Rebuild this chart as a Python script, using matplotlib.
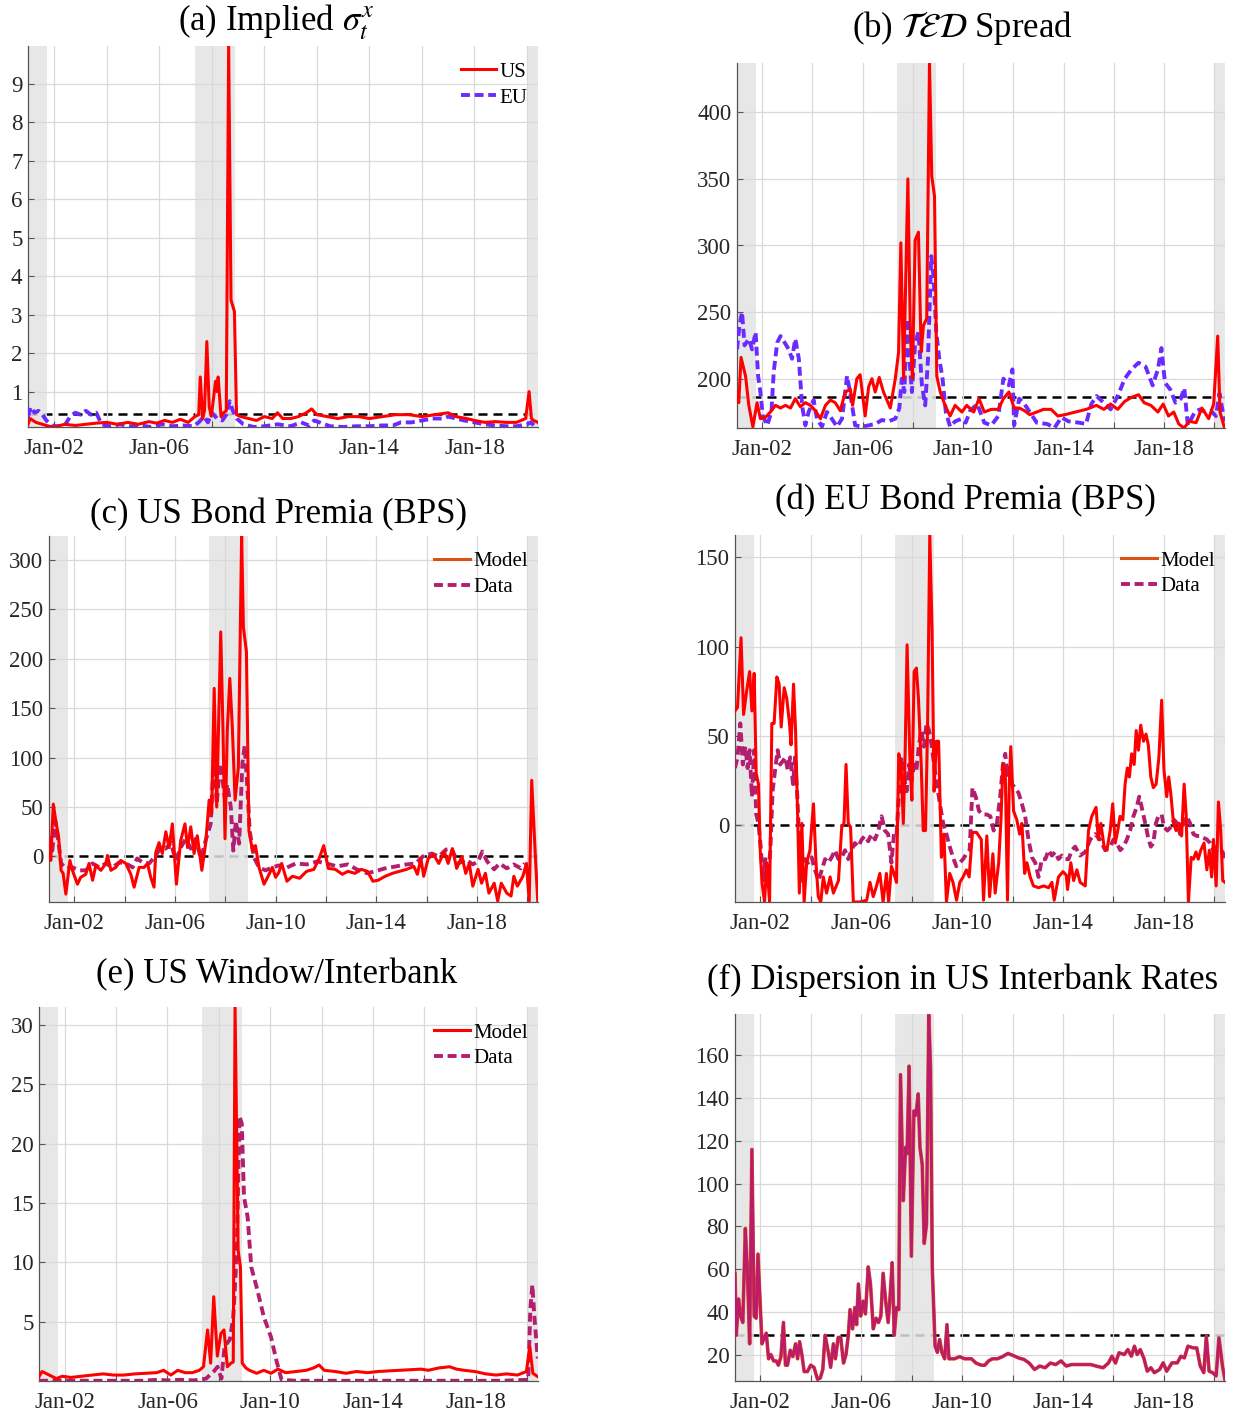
import matplotlib
matplotlib.use('Agg')
import matplotlib.pyplot as plt
from matplotlib.lines import Line2D

plt.rcParams['font.family'] = ['Liberation Serif', 'DejaVu Serif']
plt.rcParams['mathtext.fontset'] = 'stix'

# ---------------- data ----------------
x_ticks = [2002, 2004, 2006, 2008, 2010, 2012, 2014, 2016, 2018, 2020]
x_tick_labels = ['Jan-02', '', 'Jan-06', '', 'Jan-10', '', 'Jan-14', '', 'Jan-18', '']
recessions = [(2001.0, 2001.74), (2007.35, 2008.9), (2020.0, 2020.42)]

# (a) implied sigma
a_us_t = [2001.0, 2001.08, 2001.3, 2001.55, 2001.8, 2002.0, 2002.4, 2002.8, 2003.2, 2003.6,
          2004.0, 2004.4, 2004.8, 2005.2, 2005.6, 2005.9, 2006.2, 2006.5, 2006.8, 2007.1,
          2007.35, 2007.5, 2007.56, 2007.65, 2007.72, 2007.81, 2007.9, 2007.98, 2008.06, 2008.14,
          2008.2, 2008.24, 2008.35, 2008.45, 2008.55, 2008.64, 2008.73, 2008.86, 2008.94, 2009.1,
          2009.4, 2009.7, 2010.0, 2010.3, 2010.5, 2010.7, 2011.0, 2011.3, 2011.6, 2011.8,
          2012.0, 2012.4, 2012.8, 2013.2, 2013.6, 2014.0, 2014.5, 2015.0, 2015.5, 2016.0,
          2016.5, 2017.0, 2017.3, 2017.7, 2018.0, 2018.4, 2018.8, 2019.2, 2019.6, 2019.95,
          2020.08, 2020.17, 2020.25, 2020.42]
a_us_v = [0.15, 0.3, 0.2, 0.15, 0.1, 0.08, 0.15, 0.12, 0.15, 0.18,
          0.2, 0.15, 0.2, 0.15, 0.22, 0.18, 0.25, 0.2, 0.28, 0.2,
          0.35, 0.4, 1.38, 0.3, 0.5, 2.3, 0.6, 0.36, 0.8, 1.27,
          1.0, 1.38, 0.35, 0.45, 0.5, 9.98, 3.38, 3.08, 0.4, 0.35,
          0.3, 0.25, 0.35, 0.3, 0.45, 0.3, 0.3, 0.35, 0.45, 0.55,
          0.4, 0.35, 0.3, 0.35, 0.35, 0.3, 0.35, 0.4, 0.4, 0.35,
          0.4, 0.45, 0.35, 0.3, 0.25, 0.2, 0.22, 0.2, 0.2, 0.3,
          1.0, 0.3, 0.25, 0.2]
a_eu_t = [2001.0, 2001.1, 2001.25, 2001.4, 2001.55, 2001.7, 2001.9, 2002.1, 2002.4, 2002.6,
          2002.8, 2003.0, 2003.2, 2003.4, 2003.6, 2003.8, 2004.1, 2004.5, 2004.9, 2005.3,
          2005.7, 2006.1, 2006.5, 2006.9, 2007.3, 2007.5, 2007.7, 2007.85, 2008.0, 2008.2,
          2008.4, 2008.55, 2008.68, 2008.8, 2008.95, 2009.2, 2009.6, 2010.0, 2010.5, 2011.0,
          2011.4, 2011.7, 2011.9, 2012.5, 2013.0, 2013.5, 2014.0, 2014.5, 2014.9, 2015.2,
          2015.6, 2016.0, 2016.4, 2016.8, 2017.0, 2017.3, 2017.6, 2018.0, 2018.4, 2018.8,
          2019.2, 2019.6, 2020.0, 2020.15, 2020.3, 2020.42]
a_eu_v = [0.35, 0.6, 0.45, 0.5, 0.4, 0.25, 0.12, 0.1, 0.12, 0.35,
          0.45, 0.4, 0.5, 0.4, 0.45, 0.15, 0.1, 0.15, 0.1, 0.12,
          0.08, 0.15, 0.1, 0.12, 0.1, 0.2, 0.35, 0.2, 0.45, 0.3,
          0.25, 0.4, 0.75, 0.5, 0.3, 0.15, 0.08, 0.1, 0.15, 0.1,
          0.2, 0.12, 0.25, 0.1, 0.08, 0.1, 0.1, 0.12, 0.12, 0.2,
          0.2, 0.25, 0.3, 0.3, 0.35, 0.3, 0.25, 0.2, 0.15, 0.12,
          0.1, 0.1, 0.15, 0.2, 0.1, 0.15]
a_ref = 0.41

# (b) TED spread
b_us_t = [2001.0, 2001.07, 2001.16, 2001.34, 2001.47, 2001.63, 2001.8, 2001.93, 2002.13, 2002.33,
          2002.53, 2002.73, 2002.93, 2003.13, 2003.32, 2003.52, 2003.72, 2003.92, 2004.12, 2004.32,
          2004.52, 2004.72, 2004.91, 2005.11, 2005.31, 2005.51, 2005.6, 2005.77, 2005.9, 2006.1,
          2006.24, 2006.37, 2006.5, 2006.66, 2006.83, 2007.1, 2007.3, 2007.43, 2007.52, 2007.63,
          2007.8, 2007.9, 2007.98, 2008.09, 2008.22, 2008.33, 2008.42, 2008.55, 2008.66, 2008.75,
          2008.86, 2008.95, 2009.09, 2009.28, 2009.48, 2009.68, 2009.95, 2010.14, 2010.42, 2010.63,
          2010.84, 2011.12, 2011.4, 2011.6, 2011.82, 2012.03, 2012.23, 2012.44, 2012.65, 2012.93,
          2013.2, 2013.5, 2013.77, 2014.05, 2014.47, 2014.9, 2015.3, 2015.6, 2015.87, 2016.15,
          2016.43, 2016.7, 2016.98, 2017.2, 2017.47, 2017.75, 2017.96, 2018.17, 2018.38, 2018.58,
          2018.79, 2019.0, 2019.27, 2019.5, 2019.77, 2019.97, 2020.13, 2020.22, 2020.4]
b_us_v = [190, 182, 216, 202, 180, 164, 182, 170, 171, 175,
          180, 178, 180, 178, 185, 179, 182, 180, 176, 170,
          180, 184, 182, 176, 190, 192, 180, 200, 203, 172,
          194, 200, 190, 201, 190, 178, 200, 220, 302, 200,
          350, 234, 200, 304, 310, 220, 240, 245, 437, 352,
          337, 202, 190, 180, 172, 180, 175, 180, 175, 185,
          175, 177, 177, 185, 190, 178, 178, 176, 173, 175,
          177, 177, 172, 173, 175, 177, 180, 177, 181, 177,
          183, 186, 188, 182, 180, 175, 181, 172, 175, 166,
          163, 168, 167, 178, 170, 181, 232, 175, 163]
b_eu_t = [2001.0, 2001.1, 2001.2, 2001.3, 2001.47, 2001.6, 2001.74, 2001.84, 2001.93, 2002.03,
          2002.2, 2002.37, 2002.46, 2002.6, 2002.73, 2002.9, 2003.06, 2003.19, 2003.32, 2003.46,
          2003.59, 2003.72, 2003.85, 2004.05, 2004.18, 2004.38, 2004.58, 2004.77, 2004.98, 2005.18,
          2005.38, 2005.5, 2005.7, 2005.97, 2006.24, 2006.5, 2006.77, 2007.03, 2007.3, 2007.46,
          2007.56, 2007.66, 2007.76, 2007.86, 2007.96, 2008.09, 2008.22, 2008.36, 2008.49, 2008.6,
          2008.73, 2008.82, 2008.93, 2009.05, 2009.18, 2009.31, 2009.48, 2009.68, 2009.95, 2010.1,
          2010.28, 2010.56, 2010.84, 2011.12, 2011.4, 2011.6, 2011.82, 2011.96, 2012.03, 2012.23,
          2012.44, 2012.65, 2012.93, 2013.35, 2013.63, 2013.91, 2014.19, 2014.61, 2014.89, 2015.1,
          2015.31, 2015.59, 2015.87, 2016.15, 2016.43, 2016.7, 2016.98, 2017.26, 2017.54, 2017.75,
          2017.89, 2018.03, 2018.24, 2018.45, 2018.66, 2018.8, 2018.94, 2019.22, 2019.43, 2019.64,
          2019.85, 2020.06, 2020.2, 2020.4]
b_eu_v = [222, 240, 250, 225, 230, 222, 235, 202, 190, 172,
          165, 175, 205, 227, 232, 227, 222, 215, 230, 215,
          180, 165, 175, 184, 170, 164, 175, 170, 164, 170,
          202, 190, 165, 164, 165, 166, 169, 168, 170, 178,
          200, 190, 245, 215, 190, 227, 235, 195, 180, 215,
          292, 277, 235, 215, 200, 175, 164, 168, 170, 167,
          176, 181, 167, 165, 172, 200, 195, 207, 165, 185,
          181, 175, 167, 166, 163, 171, 168, 167, 166, 181,
          187, 182, 177, 187, 200, 207, 212, 209, 195, 207,
          223, 197, 192, 182, 185, 193, 165, 175, 177, 175,
          176, 172, 189, 168]
b_ref = 186.5

# (c) US bond premia
c_model_t = [2001.0, 2001.07, 2001.17, 2001.27, 2001.38, 2001.48, 2001.56, 2001.67, 2001.83, 2001.93,
             2002.13, 2002.26, 2002.46, 2002.59, 2002.73, 2002.86, 2003.06, 2003.26, 2003.32, 2003.46,
             2003.65, 2003.85, 2004.05, 2004.25, 2004.38, 2004.58, 2004.78, 2004.91, 2005.04, 2005.17,
             2005.24, 2005.37, 2005.5, 2005.64, 2005.77, 2005.9, 2006.06, 2006.23, 2006.4, 2006.5,
             2006.63, 2006.76, 2006.89, 2007.07, 2007.22, 2007.36, 2007.46, 2007.56, 2007.66, 2007.82,
             2007.91, 2007.99, 2008.08, 2008.18, 2008.28, 2008.39, 2008.52, 2008.65, 2008.72, 2008.84,
             2008.94, 2009.08, 2009.2, 2009.34, 2009.54, 2009.74, 2009.87, 2010.0, 2010.13, 2010.24,
             2010.45, 2010.67, 2010.95, 2011.23, 2011.52, 2011.73, 2011.91, 2012.09, 2012.37, 2012.65,
             2012.87, 2013.15, 2013.4, 2013.65, 2013.86, 2014.07, 2014.35, 2014.64, 2014.92, 2015.2,
             2015.49, 2015.63, 2015.77, 2015.88, 2016.06, 2016.27, 2016.48, 2016.7, 2016.85, 2017.02,
             2017.19, 2017.4, 2017.55, 2017.69, 2017.83, 2018.04, 2018.18, 2018.33, 2018.47, 2018.68,
             2018.82, 2018.96, 2019.18, 2019.35, 2019.46, 2019.6, 2019.82, 2019.96, 2020.07, 2020.17,
             2020.31, 2020.41]
c_model_v = [14, -4, 53, 36, 20, -14, -17, -38, -4, -14,
             -28, -21, -18, -7, -24, -9, -14, -7, 1, -14,
             -11, -4, -7, -18, -31, -11, -11, -7, -21, -31,
             4, 14, 3, 25, 9, 33, -28, 16, 33, 9,
             30, 3, 21, -14, 13, 57, 43, 170, 50, 227,
             127, 18, 127, 180, 131, 57, 90, 324, 232, 207,
             26, 6, 11, -11, -28, -18, -11, -21, -16, -7,
             -25, -20, -22, -15, -13, -2, 11, -12, -13, -18,
             -15, -17, -13, -15, -25, -24, -20, -17, -15, -13,
             -10, -18, -2, -20, -2, 2, -7, 5, -7, 8,
             -12, 0, -17, -7, -30, -13, -27, -17, -37, -27,
             -45, -27, -37, -40, -20, -30, -20, -7, -45, 77,
             3, -45]
c_data_t = [2001.0, 2001.13, 2001.25, 2001.37, 2001.48, 2001.67, 2001.93, 2002.2, 2002.46, 2002.73,
            2003.0, 2003.26, 2003.52, 2003.79, 2004.05, 2004.32, 2004.5, 2004.71, 2004.98, 2005.24,
            2005.44, 2005.64, 2005.84, 2006.03, 2006.23, 2006.43, 2006.63, 2006.83, 2007.03, 2007.22,
            2007.42, 2007.56, 2007.66, 2007.79, 2007.88, 2007.99, 2008.08, 2008.22, 2008.32, 2008.42,
            2008.55, 2008.68, 2008.77, 2008.87, 2008.97, 2009.14, 2009.34, 2009.6, 2009.87, 2010.13,
            2010.38, 2010.8, 2011.23, 2011.66, 2012.01, 2012.44, 2012.87, 2013.22, 2013.65, 2013.93,
            2014.35, 2014.78, 2015.2, 2015.56, 2015.84, 2016.2, 2016.48, 2016.77, 2016.98, 2017.26,
            2017.55, 2017.83, 2018.04, 2018.21, 2018.4, 2018.68, 2018.89, 2019.18, 2019.46, 2019.74,
            2019.89]
c_data_v = [20, 6, 36, 16, -7, -12, -11, -14, -14, -7,
            -11, -7, -11, -6, -7, -11, -2, -6, -7, 1,
            9, 8, 14, -4, 9, 18, 8, 18, -2, 16,
            33, 107, 53, 94, 80, 57, 73, 50, 6, 36,
            13, 94, 112, 73, 26, -1, -11, -14, -11, -9,
            -12, -7, -8, -5, -7, -10, -8, -13, -17, -15,
            -12, -10, -8, -7, 0, 3, 0, 7, 8, -7,
            -3, -8, -5, 5, -5, -13, -7, -12, -8, -12,
            -7]
c_ref = 0

# (d) EU bond premia
d_model_t = [2001.0, 2001.1, 2001.24, 2001.34, 2001.46, 2001.58, 2001.67, 2001.76, 2001.84, 2001.93,
             2002.0, 2002.07, 2002.17, 2002.26, 2002.37, 2002.46, 2002.55, 2002.66, 2002.75, 2002.83,
             2002.95, 2003.05, 2003.16, 2003.22, 2003.32, 2003.4, 2003.49, 2003.55, 2003.65, 2003.74,
             2003.84, 2003.97, 2004.11, 2004.21, 2004.3, 2004.4, 2004.5, 2004.63, 2004.77, 2004.9,
             2005.1, 2005.23, 2005.32, 2005.4, 2005.49, 2005.58, 2005.69, 2005.95, 2006.22, 2006.35,
             2006.48, 2006.61, 2006.74, 2006.87, 2007.0, 2007.09, 2007.2, 2007.3, 2007.4, 2007.49,
             2007.58, 2007.67, 2007.74, 2007.82, 2007.93, 2008.01, 2008.1, 2008.19, 2008.27, 2008.38,
             2008.46, 2008.55, 2008.63, 2008.72, 2008.81, 2008.89, 2008.98, 2009.07, 2009.18, 2009.28,
             2009.38, 2009.51, 2009.64, 2009.78, 2009.91, 2010.04, 2010.17, 2010.28, 2010.41, 2010.57,
             2010.76, 2010.85, 2010.98, 2011.09, 2011.22, 2011.31, 2011.45, 2011.54, 2011.62, 2011.71,
             2011.8, 2011.87, 2011.93, 2012.04, 2012.17, 2012.28, 2012.37, 2012.48, 2012.57, 2012.7,
             2012.83, 2013.03, 2013.23, 2013.43, 2013.56, 2013.65, 2013.82, 2014.0, 2014.13, 2014.18,
             2014.31, 2014.42, 2014.55, 2014.68, 2014.88, 2015.01, 2015.14, 2015.31, 2015.4, 2015.5,
             2015.63, 2015.74, 2015.87, 2015.97, 2016.07, 2016.17, 2016.26, 2016.37, 2016.46, 2016.55,
             2016.63, 2016.72, 2016.82, 2016.9, 2016.99, 2017.08, 2017.19, 2017.29, 2017.38, 2017.48,
             2017.58, 2017.69, 2017.8, 2017.91, 2018.0, 2018.11, 2018.19, 2018.27, 2018.38, 2018.48,
             2018.6, 2018.7, 2018.8, 2018.88, 2018.97, 2019.08, 2019.17, 2019.27, 2019.36, 2019.46,
             2019.59, 2019.7, 2019.8, 2019.89, 2019.96, 2020.07, 2020.16, 2020.25, 2020.33, 2020.42]
d_model_v = [64, 66, 105, 62, 75, 86, 64, 85, 29, 23,
             -14, -32, -43, -21, -43, 57, 57, 83, 79, 55,
             77, 71, 57, 45, 79, 53, 1, -38, 1, -43,
             -21, -14, 12, -21, -40, -43, -29, -38, -29, -38,
             -31, -1, 1, 34, 1, -1, -43, -43, -42, -32,
             -40, -34, -27, -43, -27, -43, -23, -27, -32, 40,
             34, 1, 38, 101, 38, 14, 86, 88, 71, 34,
             -3, -3, 53, 163, 109, 19, 47, 47, -18, -5,
             -43, -27, -32, -42, -32, -29, -25, -29, -4, -4,
             -8, -42, -6, -40, -16, -38, -21, 3, 34, 31,
             -42, 23, 44, 8, 3, -5, 1, -27, -21, -29,
             -34, -35, -34, -35, -32, -42, -29, -26, -28, -36,
             -21, -31, -25, -32, -34, -3, 5, 10, -8, 1,
             -12, -14, -3, 12, -10, -3, 5, 3, 23, 32,
             27, 40, 34, 53, 42, 56, 47, 51, 45, 27,
             21, 23, 38, 70, 31, 16, 27, 18, 1, -3,
             1, -6, 23, 6, -43, -18, -19, -15, -19, -14,
             -10, -25, -14, -29, -8, -34, 13, -3, -31, -32]
d_data_t = [2001.0, 2001.1, 2001.21, 2001.31, 2001.41, 2001.5, 2001.58, 2001.67, 2001.76, 2001.84,
            2001.93, 2002.03, 2002.11, 2002.2, 2002.29, 2002.4, 2002.49, 2002.59, 2002.69, 2002.79,
            2002.9, 2002.99, 2003.09, 2003.19, 2003.3, 2003.38, 2003.47, 2003.55, 2003.65, 2003.78,
            2003.91, 2004.04, 2004.17, 2004.31, 2004.44, 2004.57, 2004.7, 2004.83, 2004.96, 2005.1,
            2005.23, 2005.36, 2005.49, 2005.62, 2005.75, 2005.89, 2006.02, 2006.15, 2006.28, 2006.41,
            2006.55, 2006.68, 2006.81, 2006.94, 2007.07, 2007.2, 2007.3, 2007.4, 2007.49, 2007.6,
            2007.7, 2007.8, 2007.9, 2008.0, 2008.1, 2008.19, 2008.29, 2008.39, 2008.49, 2008.59,
            2008.69, 2008.79, 2008.89, 2009.0, 2009.12, 2009.25, 2009.38, 2009.51, 2009.64, 2009.77,
            2009.91, 2010.04, 2010.17, 2010.3, 2010.41, 2010.54, 2010.67, 2010.8, 2010.98, 2011.12,
            2011.25, 2011.38, 2011.51, 2011.62, 2011.71, 2011.8, 2011.88, 2011.97, 2012.1, 2012.24,
            2012.37, 2012.5, 2012.63, 2012.77, 2012.9, 2013.03, 2013.16, 2013.3, 2013.43, 2013.56,
            2013.69, 2013.82, 2013.95, 2014.09, 2014.22, 2014.35, 2014.48, 2014.68, 2014.88, 2015.08,
            2015.27, 2015.47, 2015.67, 2015.87, 2016.0, 2016.13, 2016.27, 2016.4, 2016.53, 2016.66,
            2016.79, 2016.92, 2017.02, 2017.12, 2017.26, 2017.39, 2017.48, 2017.58, 2017.68, 2017.78,
            2017.91, 2018.0, 2018.14, 2018.27, 2018.4, 2018.53, 2018.64, 2018.77, 2018.9, 2019.04,
            2019.17, 2019.3, 2019.43, 2019.56, 2019.7, 2019.83, 2019.96, 2020.1, 2020.23, 2020.36,
            2020.42]
d_data_v = [32, 38, 57, 34, 44, 32, 42, 16, 42, 6,
            1, -14, -31, -19, -32, -14, 19, 31, 42, 34,
            36, 38, 31, 38, 23, 38, 16, -10, -31, -19,
            -21, -18, -25, -31, -25, -19, -21, -18, -14, -19,
            -18, -14, -19, -14, -10, -12, -8, -6, -9, -5,
            -8, -3, 5, -3, -5, -21, -5, -6, 16, 38,
            27, 19, 34, 25, 34, 31, 45, 53, 44, 57,
            53, 45, 34, 23, 12, 1, -5, -12, -18, -23,
            -21, -19, -16, -14, 21, 16, 8, 6, 6, 5,
            -3, 1, 16, 34, 40, 27, 34, 23, 21, 18,
            12, 5, -8, -18, -21, -29, -19, -19, -14, -17,
            -15, -19, -17, -19, -19, -14, -12, -17, -15, -8,
            -5, -8, -14, -12, -8, -10, -14, -12, -8, -3,
            5, 10, 16, 10, 1, -8, -12, -10, 1, 5,
            6, -1, -3, -1, 3, 1, -5, 1, 5, 1,
            -5, -6, -6, -7, -8, -10, -14, -12, -13, -16,
            -19]
d_ref = 0

# (e) US window / interbank
e_model_t = [2001.0, 2001.12, 2001.4, 2001.68, 2001.9, 2002.24, 2002.65, 2003.07, 2003.5, 2003.9,
             2004.3, 2004.74, 2005.15, 2005.57, 2005.85, 2006.13, 2006.4, 2006.69, 2006.96, 2007.24,
             2007.4, 2007.56, 2007.68, 2007.8, 2007.94, 2008.08, 2008.2, 2008.33, 2008.47, 2008.56,
             2008.63, 2008.75, 2008.84, 2008.91, 2009.05, 2009.19, 2009.47, 2009.75, 2010.03, 2010.3,
             2010.6, 2011.0, 2011.4, 2011.69, 2011.9, 2012.1, 2012.53, 2012.95, 2013.36, 2013.78,
             2014.2, 2014.6, 2015.03, 2015.45, 2015.87, 2016.15, 2016.56, 2016.98, 2017.25, 2017.55,
             2017.96, 2018.38, 2018.79, 2019.2, 2019.62, 2019.97, 2020.1, 2020.22, 2020.41]
e_model_v = [0.37, 0.8, 0.5, 0.2, 0.4, 0.3, 0.4, 0.5, 0.6, 0.5,
             0.5, 0.6, 0.65, 0.7, 0.9, 0.5, 0.9, 0.7, 0.7, 0.9,
             1.2, 4.3, 1.5, 7.1, 2.1, 4.0, 4.3, 1.2, 1.5, 1.6,
             31.5, 11.0, 9.6, 1.5, 1.1, 0.9, 0.65, 0.9, 0.65, 1.0,
             0.7, 0.8, 0.9, 1.1, 1.35, 0.9, 0.8, 0.65, 0.8, 0.7,
             0.8, 0.85, 0.9, 0.95, 1.0, 0.9, 1.1, 1.2, 1.0, 0.9,
             0.8, 0.6, 0.5, 0.6, 0.5, 0.8, 2.9, 0.65, 0.37]
e_data_t = [2001.0, 2002.0, 2003.0, 2004.0, 2005.0, 2005.6, 2006.0, 2006.5, 2007.0, 2007.24,
            2007.5, 2007.8, 2007.95, 2008.1, 2008.22, 2008.43, 2008.56, 2008.7, 2008.8, 2008.89,
            2008.98, 2009.12, 2009.26, 2009.47, 2009.75, 2010.03, 2010.23, 2010.44, 2011.0, 2013.0,
            2015.0, 2017.0, 2019.0, 2020.04, 2020.12, 2020.2, 2020.28, 2020.41]
e_data_v = [0.02, 0.02, 0.02, 0.02, 0.02, 0.1, 0.05, 0.1, 0.05, 0.1,
            0.2, 0.8, 1.2, 0.2, 2.9, 3.5, 5.4, 11.0, 22.3, 21.7,
            15.5, 13.8, 9.6, 7.9, 5.4, 3.7, 1.8, 0.1, 0.02, 0.02,
            0.02, 0.02, 0.02, 0.1, 6.0, 8.1, 5.4, 1.9]

# (f) dispersion in US interbank rates
f_t = [2001.0, 2001.05, 2001.14, 2001.22, 2001.31, 2001.41, 2001.5, 2001.58, 2001.67, 2001.76,
       2001.84, 2001.91, 2002.0, 2002.07, 2002.16, 2002.24, 2002.33, 2002.42, 2002.53, 2002.63,
       2002.72, 2002.82, 2002.92, 2003.0, 2003.08, 2003.19, 2003.29, 2003.4, 2003.48, 2003.56,
       2003.65, 2003.74, 2003.87, 2004.0, 2004.13, 2004.27, 2004.38, 2004.48, 2004.57, 2004.7,
       2004.79, 2004.9, 2004.98, 2005.09, 2005.19, 2005.3, 2005.4, 2005.49, 2005.56, 2005.66,
       2005.75, 2005.82, 2005.89, 2005.98, 2006.08, 2006.17, 2006.28, 2006.37, 2006.48, 2006.59,
       2006.69, 2006.78, 2006.87, 2006.98, 2007.07, 2007.14, 2007.23, 2007.31, 2007.4, 2007.49,
       2007.56, 2007.67, 2007.76, 2007.82, 2007.9, 2007.99, 2008.09, 2008.17, 2008.26, 2008.33,
       2008.42, 2008.5, 2008.59, 2008.68, 2008.75, 2008.82, 2008.93, 2009.02, 2009.11, 2009.2,
       2009.31, 2009.4, 2009.48, 2009.7, 2009.9, 2010.1, 2010.37, 2010.55, 2010.76, 2010.9,
       2011.05, 2011.2, 2011.4, 2011.6, 2011.82, 2012.03, 2012.24, 2012.45, 2012.66, 2012.87,
       2013.08, 2013.29, 2013.5, 2013.71, 2013.92, 2014.13, 2014.34, 2014.62, 2014.9, 2015.1,
       2015.31, 2015.59, 2015.8, 2015.94, 2016.08, 2016.22, 2016.43, 2016.57, 2016.71, 2016.83,
       2016.94, 2017.06, 2017.2, 2017.34, 2017.48, 2017.62, 2017.83, 2017.97, 2018.11, 2018.32,
       2018.53, 2018.67, 2018.81, 2018.95, 2019.16, 2019.3, 2019.44, 2019.58, 2019.68, 2019.79,
       2019.93, 2020.07, 2020.18, 2020.32, 2020.42]
f_v = [58, 29, 46, 38, 35, 79, 56, 25, 116, 38,
       37, 67, 44, 25, 28, 30, 18, 20, 17, 17,
       15, 19, 35, 15, 15, 22, 19, 25, 18, 26,
       20, 12, 12, 15, 14, 8.4, 9, 13, 29, 21,
       14, 25, 18, 28, 28, 16, 20, 29, 41, 32,
       42, 34, 53, 38, 45, 39, 61, 53, 32, 37,
       35, 38, 58, 44, 35, 46, 63, 29, 42, 41,
       151, 92, 117, 114, 155, 66, 134, 132, 142, 117,
       109, 72, 81, 179, 154, 60, 24, 21, 27, 21,
       18, 34, 18, 18, 19, 18, 18, 16, 15, 15,
       17, 18, 18, 19, 20.5, 19.5, 18.4, 17.7, 16, 13,
       14.6, 13.8, 16, 15.3, 17, 14.6, 15.3, 15.3, 15.3, 15.3,
       14.6, 13.8, 16, 19.2, 16, 20.8, 20, 22.3, 19.2, 23.9,
       20, 22.3, 18.4, 12.2, 13.8, 11.5, 13, 16.1, 12.2, 16.1,
       16.1, 19.2, 18.4, 23.9, 23.1, 23.1, 14.6, 11.5, 28.5, 12.2,
       11.5, 10, 27.8, 14.6, 8]
f_ref = 29.0

# ---------------- style ----------------
RED = '#FF0000'
VIOLET = '#6B2BFF'
MAG = '#B31E6F'
ORANGE = '#D95319'
W, H = 1233, 1416
XMIN, XMAX = 2001.0, 2020.42
DASH = (0, (2.3, 1.2))

fig = plt.figure(figsize=(W / 100, H / 100), dpi=100)


def make_ax(l, t, r, b, ylim, yticks):
    ax = fig.add_axes([l / W, 1 - b / H, (r - l) / W, (b - t) / H])
    ax.set_xlim(XMIN, XMAX)
    ax.set_ylim(*ylim)
    ax.set_xticks(x_ticks)
    ax.set_xticklabels(x_tick_labels)
    ax.set_yticks(yticks)
    ax.set_yticklabels([str(v) for v in yticks])
    for s in ['top', 'right']:
        ax.spines[s].set_visible(False)
    for s in ['left', 'bottom']:
        ax.spines[s].set_color('#555555')
        ax.spines[s].set_linewidth(0.9)
    ax.tick_params(direction='in', length=4, width=0.8, color='#555555',
                   labelcolor='#262626', labelsize=16.5, pad=4)
    ax.tick_params(axis='x', pad=8)
    ax.set_axisbelow('line')
    ax.grid(True, color='#d9d9d9', lw=0.9)
    for (s, e) in recessions:
        ax.axvspan(s, e, facecolor=(0.89, 0.89, 0.89), alpha=0.85, lw=0, zorder=1)
    return ax


def ref_line(ax, y):
    ax.axhline(y, color='black', lw=1.8, ls=(0, (3.6, 2.4)), zorder=0.8)
    # the reference line replaces the grid line at the same level
    for tick, loc in zip(ax.yaxis.get_major_ticks(), ax.get_yticks()):
        if abs(loc - y) < 1e-9:
            tick.gridline.set_visible(False)


def legend(ax, handles, labels):
    ax.legend(handles, labels, loc='upper right', bbox_to_anchor=(1.0, 0.985),
              frameon=False, fontsize=15, handlelength=1.7,
              handletextpad=0.15, labelspacing=0.3, borderaxespad=0.2, borderpad=0.3)


def title(x, y, s):
    fig.text(x / W, 1 - y / H, s, ha='center', va='center', fontsize=25, color='black')


# (a)
ax = make_ax(28, 46, 538, 427, (0.08, 9.98), [1, 2, 3, 4, 5, 6, 7, 8, 9])
ref_line(ax, a_ref)
ax.plot(a_eu_t, a_eu_v, color=VIOLET, lw=2.8, ls=DASH, zorder=3)
ax.plot(a_us_t, a_us_v, color=RED, lw=2.2, zorder=4)
legend(ax, [Line2D([], [], color=RED, lw=2.2), Line2D([], [], color=VIOLET, lw=2.8, ls=DASH)],
       ['US', 'EU'])
title(276, 22, r'(a) Implied $\sigma_t^x$')

# (b)
ax = make_ax(737, 63, 1225, 428, (163, 437), [200, 250, 300, 350, 400])
ref_line(ax, b_ref)
ax.plot(b_eu_t, b_eu_v, color=VIOLET, lw=2.8, ls=DASH, zorder=3)
ax.plot(b_us_t, b_us_v, color=RED, lw=2.2, zorder=4)
title(962, 28, r'(b) $\mathcal{TED}$ Spread')

# (c)
ax = make_ax(49, 536, 538, 902, (-46, 324), [0, 50, 100, 150, 200, 250, 300])
ref_line(ax, c_ref)
ax.plot(c_data_t, c_data_v, color=MAG, lw=2.8, ls=DASH, zorder=3)
ax.plot(c_model_t, c_model_v, color=RED, lw=2.2, zorder=4)
legend(ax, [Line2D([], [], color=ORANGE, lw=2.2), Line2D([], [], color=MAG, lw=2.8, ls=DASH)],
       ['Model', 'Data'])
title(278, 515, '(c) US Bond Premia (BPS)')

# (d)
ax = make_ax(735, 535, 1225, 902, (-43, 162.5), [0, 50, 100, 150])
ref_line(ax, d_ref)
ax.plot(d_data_t, d_data_v, color=MAG, lw=2.8, ls=DASH, zorder=3)
ax.plot(d_model_t, d_model_v, color=RED, lw=2.2, zorder=4)
legend(ax, [Line2D([], [], color=ORANGE, lw=2.2), Line2D([], [], color=MAG, lw=2.8, ls=DASH)],
       ['Model', 'Data'])
title(965, 501, '(d) EU Bond Premia (BPS)')

# (e)
ax = make_ax(39, 1007, 538, 1381, (0.0, 31.5), [5, 10, 15, 20, 25, 30])
ax.plot(e_data_t, e_data_v, color=MAG, lw=2.8, ls=DASH, zorder=3)
ax.plot(e_model_t, e_model_v, color=RED, lw=2.2, zorder=4)
legend(ax, [Line2D([], [], color=RED, lw=2.2), Line2D([], [], color=MAG, lw=2.8, ls=DASH)],
       ['Model', 'Data'])
title(277, 975, '(e) US Window/Interbank')

# (f)
ax = make_ax(735, 1014, 1225, 1381, (7.6, 179.4), [20, 40, 60, 80, 100, 120, 140, 160])
ref_line(ax, f_ref)
ax.plot(f_t, f_v, color=ORANGE, lw=2.6, zorder=3)
ax.plot(f_t, f_v, color='#BC1A6A', lw=1.9, zorder=4)
title(963, 980, '(f) Dispersion in US Interbank Rates')

fig.savefig('out.png', dpi=100)
